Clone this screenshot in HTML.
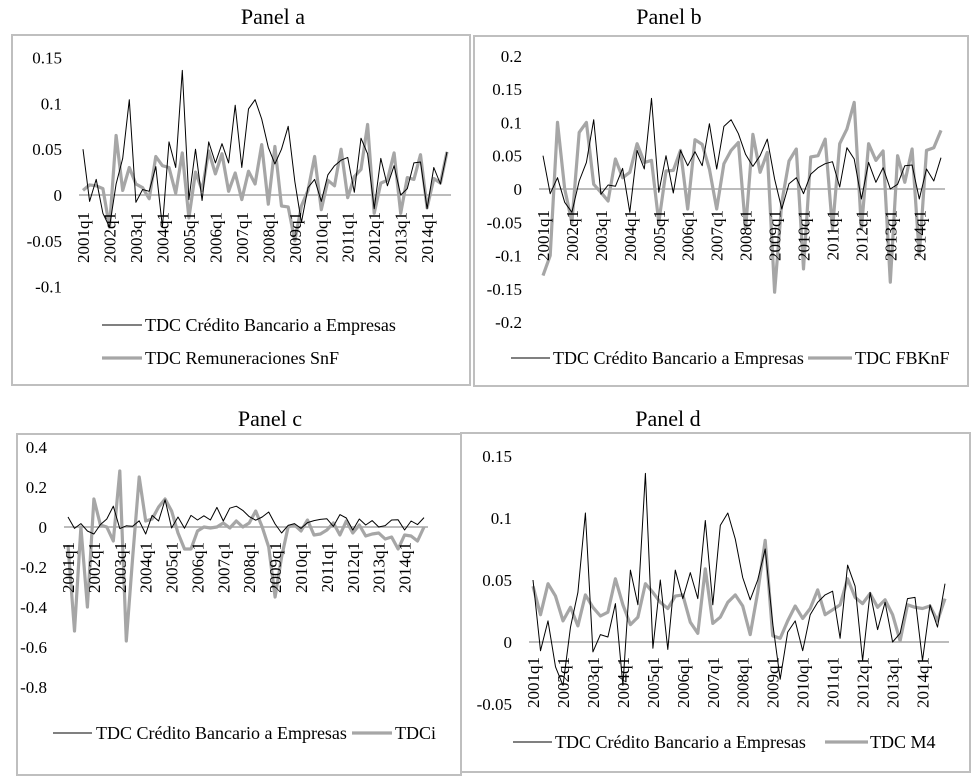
<!DOCTYPE html>
<html><head><meta charset="utf-8"><style>
html,body{margin:0;padding:0;background:#fff;}
svg text{font-family:"Liberation Serif",serif;fill:#000;}
</style></head><body>
<svg id="chart" width="977" height="779" viewBox="0 0 977 779" xmlns="http://www.w3.org/2000/svg"></svg>
<script>
const quarters = [];
for (let y = 2001; y <= 2014; y++) for (let q = 1; q <= 4; q++) quarters.push(y + 'q' + q);
const credito = [0.05,-0.007,0.017,-0.02,-0.035,0.012,0.04,0.104,-0.008,0.006,0.004,0.031,-0.035,0.058,0.03,0.136,-0.005,0.05,-0.006,0.058,0.035,0.056,0.035,0.098,0.03,0.094,0.104,0.083,0.052,0.034,0.05,0.075,0.015,-0.03,0.008,0.017,-0.007,0.022,0.032,0.038,0.041,0.003,0.062,0.045,-0.015,0.04,0.01,0.032,0,0.007,0.035,0.036,-0.015,0.03,0.012,0.047];
const remuneraciones = [0.005,0.011,0.01,0.007,-0.035,0.065,0.005,0.03,0.012,0.008,-0.004,0.042,0.032,0.03,0.002,0.046,-0.025,0.025,0.005,0.048,0.023,0.045,0.004,0.024,-0.005,0.026,0.012,0.055,-0.01,0.053,-0.012,-0.013,-0.05,-0.012,0.005,0.042,-0.016,0.016,0.01,0.05,-0.003,0.02,0.028,0.077,-0.02,0.013,0.016,0.046,-0.02,0.019,0.017,0.044,-0.014,0.018,0.013,0.047];
const fbknf = [-0.13,-0.1,0.1,0.0,-0.05,0.085,0.1,0.007,-0.005,-0.018,0.045,0.017,0.025,0.068,0.04,0.043,-0.05,0.027,0.028,0.058,-0.03,0.074,0.067,0.03,-0.03,0.038,0.058,0.07,-0.06,0.082,0.025,0.055,-0.155,-0.02,0.042,0.06,-0.12,0.048,0.05,0.075,-0.06,0.068,0.09,0.13,-0.06,0.068,0.043,0.057,-0.14,0.05,0.01,0.06,-0.1,0.058,0.062,0.088];
const tdci = [-0.09,-0.52,0,-0.4,0.14,0.01,0,-0.07,0.28,-0.57,-0.15,0.25,0.03,0.04,0.1,0.14,0.08,-0.03,-0.11,-0.11,-0.02,0,-0.005,0,0.02,-0.005,0.03,0,0.02,0.08,0,-0.1,-0.35,-0.15,0,0.01,-0.02,0.035,-0.04,-0.035,-0.015,0.02,-0.04,0.03,-0.03,0.01,-0.045,-0.035,-0.03,-0.06,-0.05,-0.11,-0.04,-0.045,-0.07,0];
const m4 = [0.045,0.022,0.047,0.037,0.017,0.028,0.013,0.038,0.028,0.021,0.024,0.051,0.03,0.014,0.02,0.047,0.04,0.032,0.027,0.037,0.038,0.016,0.007,0.059,0.015,0.02,0.032,0.038,0.029,0.006,0.04,0.082,0.005,0.003,0.017,0.029,0.019,0.027,0.042,0.022,0.026,0.03,0.051,0.036,0.031,0.039,0.028,0.034,0.022,0.001,0.03,0.028,0.027,0.029,0.017,0.035];
const ticksA = ['0.15','0.1','0.05','0','-0.05','-0.1'];
const ticksB = ['0.2','0.15','0.1','0.05','0','-0.05','-0.1','-0.15','-0.2'];
const ticksC = ['0.4','0.2','0','-0.2','-0.4','-0.6','-0.8'];
const ticksD = ['0.15','0.1','0.05','0','-0.05'];

const NS = 'http://www.w3.org/2000/svg';
const svg = document.getElementById('chart');
function mk(tag, attrs, parent, text) {
  const e = document.createElementNS(NS, tag);
  for (const k in attrs) e.setAttribute(k, attrs[k]);
  if (text !== undefined) e.textContent = text;
  (parent || svg).appendChild(e);
  return e;
}
function panel(p) {
  const g = mk('g', {});
  
  
  const box = mk('rect', {x:p.box[0], y:p.box[1], width:p.box[2], height:p.box[3], fill:'none', stroke:'#bfbfbf', 'stroke-width':2}, g);
  
  
  const t = mk('text', {x:p.titleX, y:p.titleY, 'font-size':22, 'text-anchor':'middle'}, g, p.title);
  
  
  const yv = v => p.y0 - v * p.pxPerUnit;
  const xv = i => p.x0 + i * (p.x1 - p.x0) / (quarters.length - 1);
  p.ticks.forEach(tk => {
    const e = mk('text', {x:p.labelX, y:yv(parseFloat(tk)) + 6, 'font-size':17, 'text-anchor':'end'}, g, tk);
    
    
  });
  const zl = mk('line', {x1:p.x0 - 4, x2:p.x1 + 4, y1:p.y0, y2:p.y0, stroke:'#a6a6a6', 'stroke-width':1.5}, g);
  
  
  const mkLine = (data, color, w, name) => {
    const pts = data.map((v, i) => xv(i).toFixed(1) + ',' + yv(v).toFixed(1)).join(' ');
    const l = mk('polyline', {points:pts, fill:'none', stroke:color, 'stroke-width':w, 'stroke-linejoin':'round'}, g);
    
    
  };
  mkLine(p.series, '#a6a6a6', 3.2, p.seriesName);
  mkLine(credito, '#000', 1, 'credito-line');
  quarters.forEach((q, i) => {
    if (i % 4 !== 0) return;
    const x = xv(i) + 6, y = p.xlabY;
    const e = mk('text', {x:0, y:0, 'font-size':17, 'text-anchor':'end', transform:'translate(' + x + ',' + y + ') rotate(-90)'}, g, q);
    
    
  });
  p.legend.forEach(L => {
    const lg = mk('g', {}, g);
    
    
    mk('line', {x1:L.lx1, x2:L.lx2, y1:L.y, y2:L.y, stroke:L.color, 'stroke-width':L.w}, lg);
    mk('text', {x:L.tx, y:L.y + 6, 'font-size':18}, lg, L.text);
  });
}
const TDC = 'TDC Crédito Bancario a Empresas';
panel({name:'panel-a', box:[12,35,458,350], title:'Panel a', titleX:273, titleY:24,
  y0:195, pxPerUnit:916, labelX:62, x0:83, x1:447, xlabY:212, ticks:ticksA,
  series:remuneraciones, seriesName:'remuneraciones-line',
  legend:[{lx1:102,lx2:142,y:325,tx:145,color:'#000',w:1,text:TDC},{lx1:102,lx2:142,y:358,tx:145,color:'#a6a6a6',w:3.2,text:'TDC Remuneraciones SnF'}]});
panel({name:'panel-b', box:[474,36,494,350], title:'Panel b', titleX:669, titleY:24,
  y0:189, pxPerUnit:666, labelX:522, x0:543, x1:941, xlabY:210, ticks:ticksB,
  series:fbknf, seriesName:'fbknf-line',
  legend:[{lx1:511,lx2:550,y:358,tx:553,color:'#000',w:1,text:TDC},{lx1:808,lx2:852,y:358,tx:855,color:'#a6a6a6',w:3.2,text:'TDC FBKnF'}]});
panel({name:'panel-c', box:[17,434,444,341], title:'Panel c', titleX:270, titleY:426,
  y0:527, pxPerUnit:200, labelX:47, x0:68, x1:424, xlabY:542, ticks:ticksC,
  series:tdci, seriesName:'tdci-line',
  legend:[{lx1:53,lx2:92,y:733,tx:96,color:'#000',w:1,text:TDC},{lx1:352,lx2:392,y:733,tx:395,color:'#a6a6a6',w:3.2,text:'TDCi'}]});
panel({name:'panel-d', box:[461,433,509,339], title:'Panel d', titleX:668, titleY:426,
  y0:642, pxPerUnit:1240, labelX:512, x0:533, x1:945, xlabY:657, ticks:ticksD,
  series:m4, seriesName:'m4-line',
  legend:[{lx1:513,lx2:552,y:742,tx:555,color:'#000',w:1,text:TDC},{lx1:825,lx2:868,y:742,tx:870,color:'#a6a6a6',w:3.2,text:'TDC M4'}]});
</script>
</body></html>
